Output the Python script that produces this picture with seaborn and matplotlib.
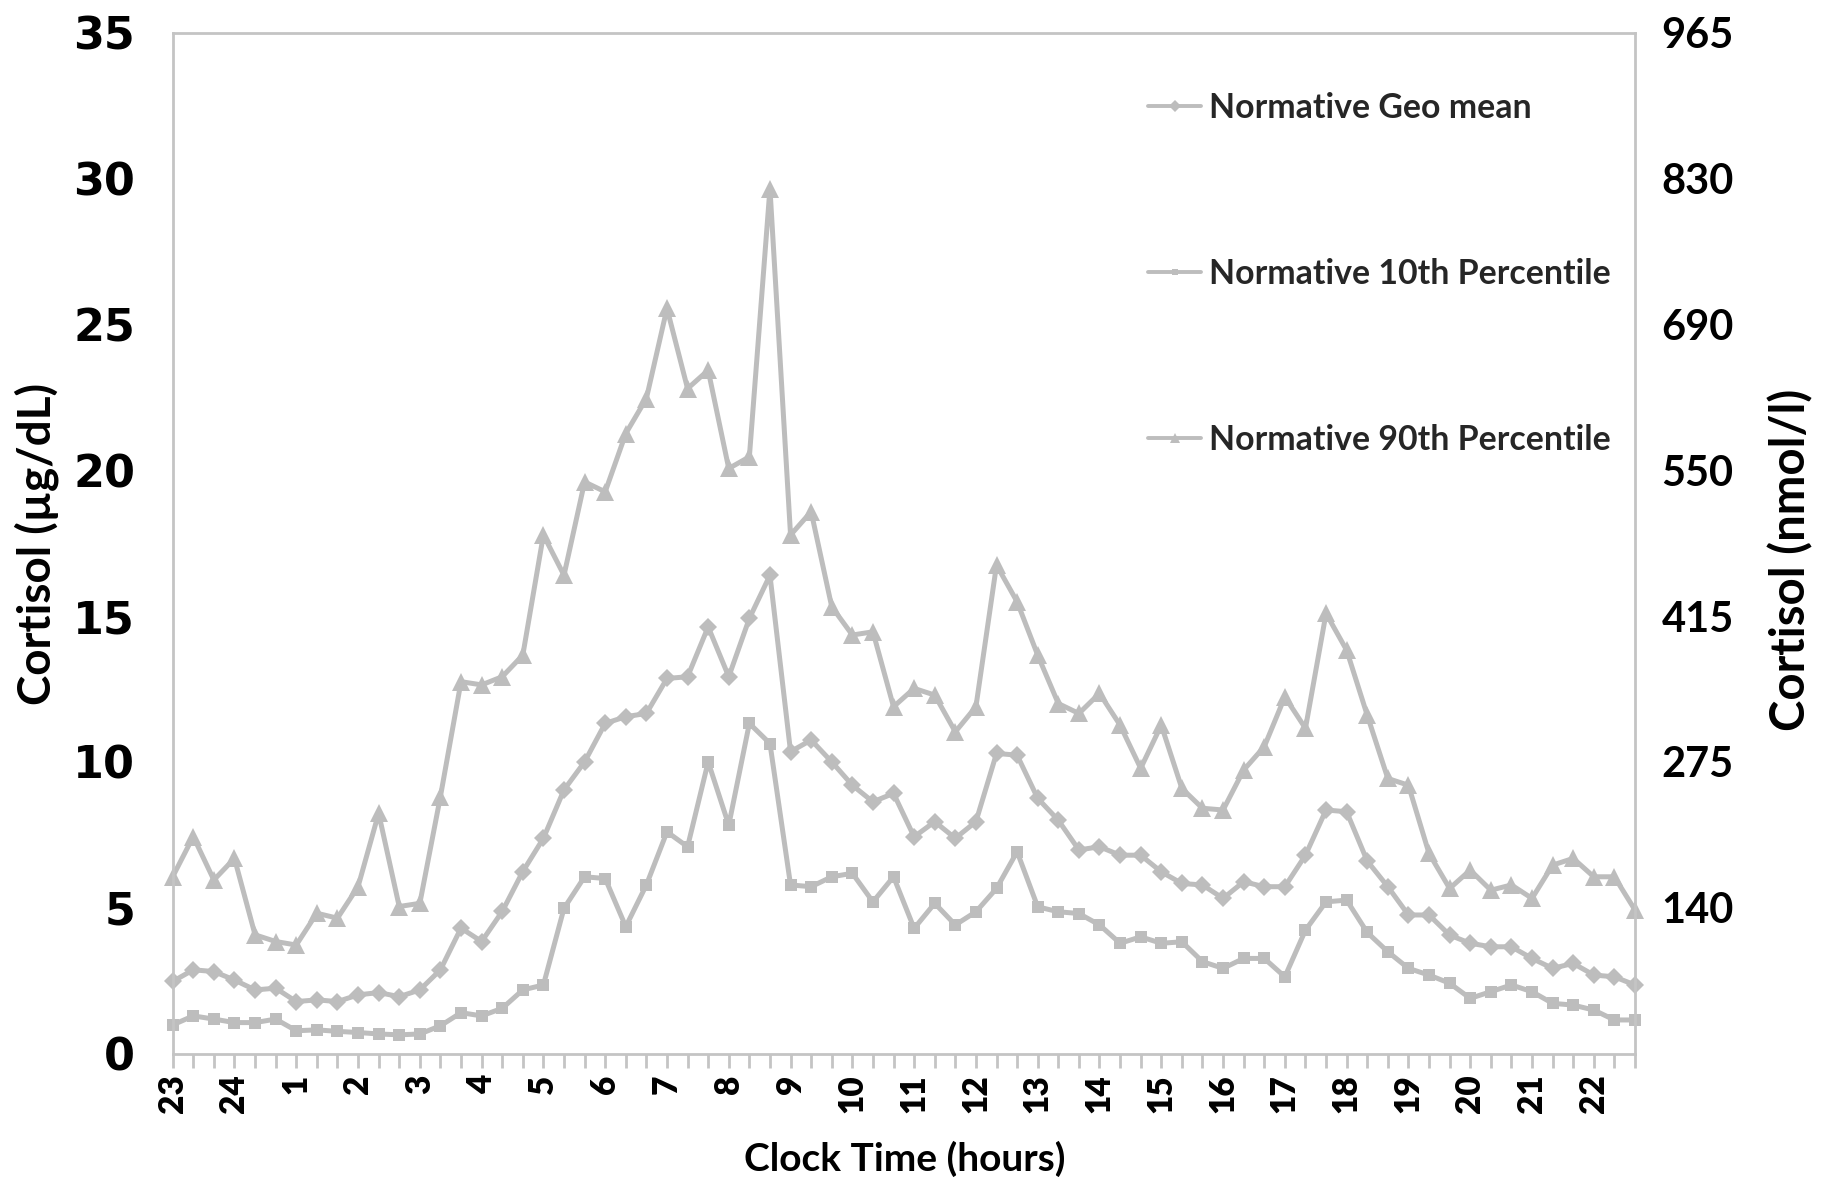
import numpy as np
import matplotlib
matplotlib.use("Agg")
import matplotlib.pyplot as plt
import seaborn as sns

# 20-minute samples from 23:00 to 22:40 (72 points)
hour_labels = ["23", "24"] + [str(h) for h in range(1, 23)]

geo_mean = [2.47, 2.87, 2.81, 2.52, 2.18, 2.24, 1.78, 1.84, 1.78, 2.01,
            2.09, 1.95, 2.18, 2.87, 4.30, 3.84, 4.87, 6.24, 7.38, 9.04,
            10.0, 11.32, 11.55, 11.66, 12.86, 12.92, 14.63, 12.92, 14.92, 16.40,
            10.35, 10.75, 10.0, 9.20, 8.63, 8.92, 7.43, 7.95, 7.38, 7.95,
            10.29, 10.23, 8.75, 8.0, 6.98, 7.09, 6.80, 6.80, 6.23, 5.83,
            5.78, 5.32, 5.89, 5.72, 5.72, 6.80, 8.35, 8.29, 6.6, 5.72,
            4.75, 4.75, 4.06, 3.78, 3.66, 3.66, 3.26, 2.92, 3.09, 2.69,
            2.63, 2.35]

p10 = [0.98, 1.29, 1.18, 1.06, 1.06, 1.18, 0.78, 0.81, 0.76, 0.72,
       0.67, 0.64, 0.67, 0.95, 1.40, 1.29, 1.55, 2.18, 2.35, 4.98,
       6.06, 6.0, 4.35, 5.78, 7.60, 7.09, 10.0, 7.83, 11.32, 10.63,
       5.78, 5.72, 6.06, 6.18, 5.20, 6.06, 4.29, 5.15, 4.41, 4.86,
       5.66, 6.92, 5.03, 4.86, 4.80, 4.41, 3.78, 4.0, 3.78, 3.83,
       3.15, 2.92, 3.26, 3.26, 2.63, 4.23, 5.20, 5.26, 4.15, 3.49,
       2.92, 2.69, 2.41, 1.89, 2.12, 2.35, 2.12, 1.72, 1.66, 1.49,
       1.15, 1.15]

p90 = [6.06, 7.44, 5.95, 6.69, 4.07, 3.84, 3.72, 4.81, 4.64, 5.72,
       8.24, 5.04, 5.15, 8.81, 12.75, 12.64, 12.92, 13.66, 17.78, 16.40,
       19.60, 19.26, 21.26, 22.46, 25.55, 22.80, 23.43, 20.06, 20.46, 29.66,
       17.78, 18.58, 15.32, 14.35, 14.46, 11.89, 12.52, 12.29, 11.03, 11.89,
       16.75, 15.49, 13.66, 12.0, 11.66, 12.35, 11.26, 9.78, 11.26, 9.09,
       8.41, 8.35, 9.72, 10.52, 12.23, 11.15, 15.09, 13.83, 11.6, 9.43,
       9.20, 6.86, 5.66, 6.29, 5.60, 5.78, 5.32, 6.46, 6.69, 6.06,
       6.06, 4.92]

left_ticks = [0, 5, 10, 15, 20, 25, 30, 35]
right_ticks = [5, 10, 15, 20, 25, 30, 35]
right_labels = ["140", "275", "415", "550", "690", "830", "965"]

sns.set_theme(style="white")
plt.rcParams["font.family"] = ["Lato", "DejaVu Sans"]

grey = "#bdbdbd"
spine_grey = "#c4c4c4"
sample = np.arange(len(geo_mean))

fig = plt.figure(figsize=(18.35, 11.8), dpi=100)
ax = fig.add_axes([0.0941, 0.1072, 0.7969, 0.865])

line_kw = dict(ax=ax, color=grey, linewidth=3.6, markeredgewidth=0, clip_on=False)
sns.lineplot(x=sample, y=geo_mean, marker="D", markersize=9.5, label="Normative Geo mean", **line_kw)
sns.lineplot(x=sample, y=p10, marker="s", markersize=8, label="Normative 10th Percentile", **line_kw)
sns.lineplot(x=sample, y=p90, marker="^", markersize=13, label="Normative 90th Percentile", **line_kw)

ax.set_xlim(0, len(sample) - 1)
ax.set_ylim(0, 35)

# x ticks at every sample, labels on the hour
ax.set_xticks(sample)
xlabels = [hour_labels[i // 3] if i % 3 == 0 else "" for i in sample]
ax.set_xticklabels(xlabels, rotation=90, fontsize=24, fontweight="heavy", color="black")
ax.tick_params(axis="x", direction="out", length=10, width=2, color=spine_grey, pad=5, bottom=True)

ax.set_yticks(left_ticks)
ax.set_yticklabels([str(t) for t in left_ticks], fontsize=32, fontweight="bold",
                   family="DejaVu Sans", color="black")
ax.tick_params(axis="y", length=0, pad=27)

for side in ["left", "right", "top", "bottom"]:
    ax.spines[side].set_visible(True)
    ax.spines[side].set_color(spine_grey)
    ax.spines[side].set_linewidth(2)

ax.set_ylabel("Cortisol (µg/dL)", fontsize=33, fontweight="bold", color="black", va="center")
ax.yaxis.set_label_coords(-0.0928, 0.499)
ax.set_xlabel("Clock Time (hours)", fontsize=28, fontweight="bold", color="black", va="center")
ax.xaxis.set_label_coords(0.5008, -0.1034)

ax2 = ax.twinx()
ax2.set_ylim(0, 35)
ax2.set_yticks(right_ticks)
ax2.set_yticklabels(right_labels, fontsize=30, fontweight="bold", color="black")
ax2.tick_params(axis="y", length=0, pad=19)
for side in ["left", "right", "top", "bottom"]:
    ax2.spines[side].set_visible(False)
ax2.set_ylabel("Cortisol (nmol/l)", fontsize=34, fontweight="bold", color="black",
               rotation=90, va="center")
ax2.yaxis.set_label_coords(1.1067, 0.4835)

leg = ax.legend(loc="upper left", bbox_to_anchor=(0.6556, 0.9585), frameon=False,
                prop={"weight": "bold", "size": 24.4},
                handlelength=1.56, handletextpad=0.24, labelspacing=3.95,
                borderpad=0, markerscale=0.6)
for line in leg.get_lines():
    line.set_linewidth(2.8)

ax.grid(False)
fig.savefig("out.png", dpi=100)
